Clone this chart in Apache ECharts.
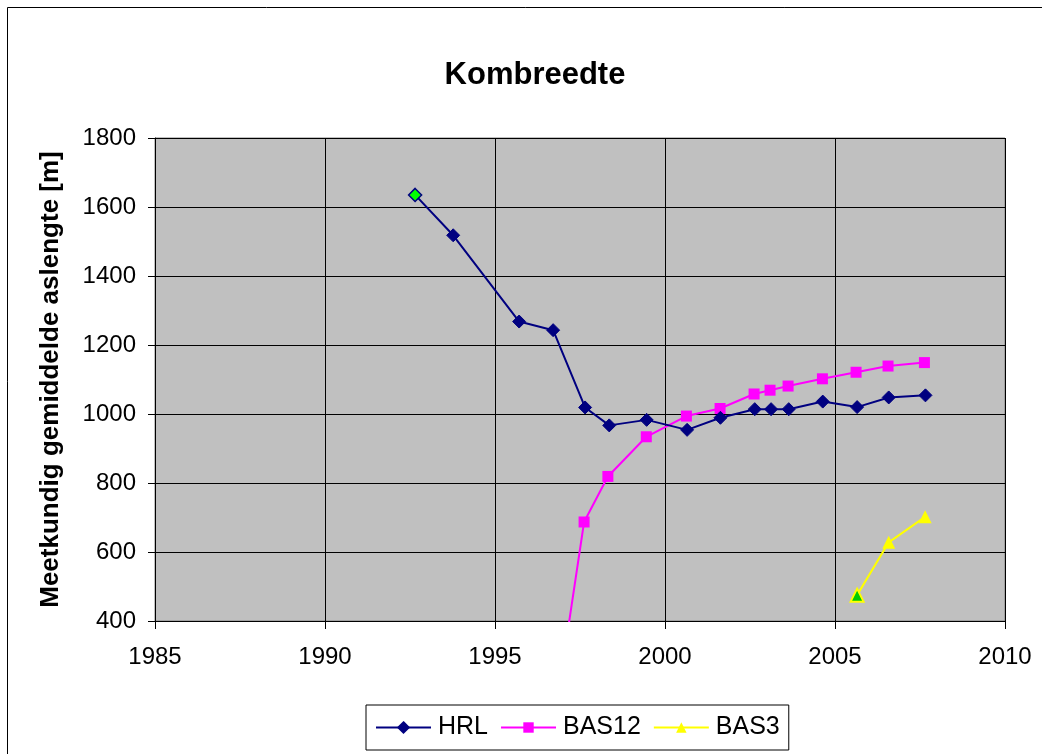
<!DOCTYPE html>
<html>
<head>
<meta charset="utf-8">
<script src="https://cdn.jsdelivr.net/npm/echarts@6/dist/echarts.min.js"></script>
<style>
  html, body { margin: 0; padding: 0; background: #fff; }
  #chart { width: 1042px; height: 754px; }
</style>
</head>
<body>
<div id="chart"></div>
<script>
// Jaartallen (decimaal) en meetwaarden per reeks
const hrlYears = [1992.65, 1993.77, 1995.71, 1996.71, 1997.65, 1998.36, 1999.46, 2000.65, 2001.63, 2002.64, 2003.12, 2003.64, 2004.64, 2005.65, 2006.58, 2007.66];
const hrlValues = [1635, 1518, 1268, 1243, 1019, 967, 983, 954, 989, 1014, 1014, 1014, 1036, 1020, 1048, 1054];

const bas12Years = [1996.71, 1997.62, 1998.32, 1999.45, 2000.63, 2001.62, 2002.62, 2003.09, 2003.62, 2004.63, 2005.62, 2006.56, 2007.63];
const bas12Values = [88, 687, 819, 934, 994, 1016, 1058, 1069, 1081, 1102, 1121, 1139, 1149];

const bas3Years = [2005.65, 2006.58, 2007.65];
const bas3Values = [475, 628, 702];

const xTicks = [1985, 1990, 1995, 2000, 2005, 2010];
const yTicks = [400, 600, 800, 1000, 1200, 1400, 1600, 1800];

const font = "Arial, 'Liberation Sans', sans-serif";

function pairs(xs, ys, firstStyle) {
  return xs.map((x, i) => {
    const item = { value: [x, ys[i]] };
    if (i === 0 && firstStyle) item.itemStyle = firstStyle;
    return item;
  });
}

const option = {
  animation: false,
  backgroundColor: "#fff",
  textStyle: { fontFamily: font },
  graphic: [
    {
      type: "rect",
      shape: { x: 7.5, y: 7.5, width: 1100, height: 800 },
      style: { fill: "none", stroke: "#000", lineWidth: 1 },
      z: -1,
    },
  ],
  title: {
    text: "Kombreedte",
    left: 530,
    top: 55,
    textAlign: "center",
    textStyle: { fontFamily: font, fontSize: 31, fontWeight: "bold", color: "#000" },
  },
  legend: {
    left: 366,
    top: 705,
    orient: "horizontal",
    itemWidth: 55,
    itemHeight: 13,
    itemGap: 12,
    padding: [10, 9, 10, 9],
    borderColor: "#000",
    borderWidth: 1,
    backgroundColor: "#fff",
    textStyle: { fontFamily: font, fontSize: 25, color: "#000", padding: [0, 0, 0, 2] },
    data: ["HRL", "BAS12", "BAS3"],
  },
  grid: {
    left: 155,
    right: 37,
    top: 138,
    bottom: 133,
    show: true,
    backgroundColor: "#c0c0c0",
    borderColor: "#808080",
    borderWidth: 1,
  },
  xAxis: {
    type: "value",
    min: xTicks[0],
    max: xTicks[xTicks.length - 1],
    interval: 5,
    axisLine: { show: true, lineStyle: { color: "#000", width: 1 } },
    axisTick: { show: true, length: 8, lineStyle: { color: "#000" } },
    axisLabel: { color: "#000", fontSize: 24, fontFamily: font, margin: 24, formatter: (v) => String(v) },
    splitLine: { show: true, lineStyle: { color: "#000", width: 1 } },
  },
  yAxis: {
    type: "value",
    min: yTicks[0],
    max: yTicks[yTicks.length - 1],
    interval: 200,
    name: "Meetkundig gemiddelde aslengte [m]",
    nameLocation: "middle",
    nameRotate: 90,
    nameGap: 91,
    nameTextStyle: { fontFamily: font, fontSize: 26, fontWeight: "bold", color: "#000" },
    axisLine: { show: true, lineStyle: { color: "#000", width: 1 } },
    axisTick: { show: true, length: 7, lineStyle: { color: "#000" } },
    axisLabel: { color: "#000", fontSize: 24, fontFamily: font, margin: 19, formatter: (v) => String(v) },
    splitLine: { show: true, lineStyle: { color: "#000", width: 1 } },
  },
  series: [
    {
      name: "HRL",
      type: "line",
      symbol: "diamond",
      symbolSize: 13,
      clip: true,
      lineStyle: { color: "#000080", width: 2 },
      itemStyle: { color: "#000080", borderColor: "#000080", borderWidth: 1 },
      data: pairs(hrlYears, hrlValues, { color: "#00ff00", borderColor: "#000080", borderWidth: 1.5 }),
      z: 4,
    },
    {
      name: "BAS12",
      type: "line",
      symbol: "rect",
      symbolSize: 11,
      clip: true,
      lineStyle: { color: "#ff00ff", width: 2 },
      itemStyle: { color: "#ff00ff" },
      data: pairs(bas12Years, bas12Values),
      z: 3,
    },
    {
      name: "BAS3",
      type: "line",
      symbol: "triangle",
      symbolSize: 13,
      clip: true,
      lineStyle: { color: "#ffff00", width: 2 },
      itemStyle: { color: "#ffff00" },
      data: pairs(bas3Years, bas3Values, { color: "#00cc00", borderColor: "#ffff00", borderWidth: 2 }),
      z: 2,
    },
  ],
};

const chart = echarts.init(document.getElementById("chart"), null, { renderer: "canvas" });
chart.setOption(option);
</script>
</body>
</html>
